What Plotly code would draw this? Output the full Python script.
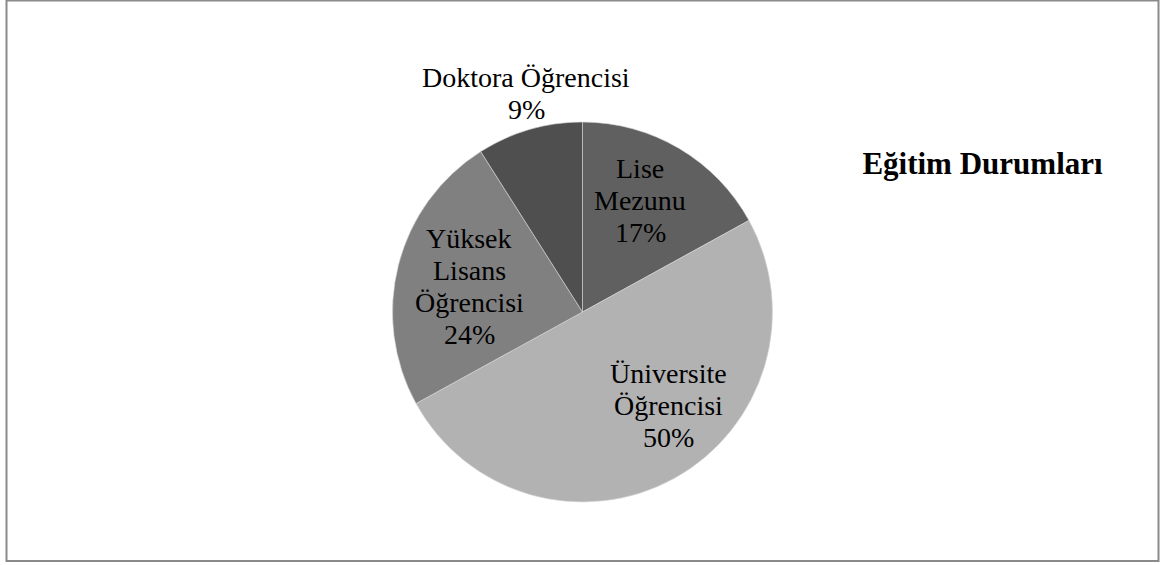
import plotly.graph_objects as go

labels = ["Lise Mezunu", "Üniversite Öğrencisi", "Yüksek Lisans Öğrencisi", "Doktora Öğrencisi"]
values = [17, 50, 24, 9]
label_lines = [["Lise", "Mezunu"], ["Üniversite", "Öğrencisi"], ["Yüksek", "Lisans", "Öğrencisi"], ["Doktora Öğrencisi"]]
colors = ["#606060", "#b2b2b2", "#808080", "#4f4f4f"]
title_text = "<b>Eğitim Durumları</b>"

W, H = 1171, 565
cx, cy, r = 582.5, 312, 190
serif = "Liberation Serif, Times New Roman, serif"
fs = 28
line_gap = 32
# label block positions (x centre, first-line baseline) in pixels
label_pos = [(640, 177), (668, 382), (469, 247), (526, 86)]

fig = go.Figure(go.Pie(
    labels=labels,
    values=values,
    textinfo="none",
    sort=False,
    direction="clockwise",
    rotation=0,
    marker=dict(colors=colors, line=dict(color="#d8d8d8", width=0.6)),
    showlegend=False,
    hoverinfo="label+percent",
    domain=dict(x=[(cx - r) / W, (cx + r) / W], y=[(H - cy - r) / H, (H - cy + r) / H]),
))

total = sum(values)
annotations = []
for lines, v, (lx, ly) in zip(label_lines, values, label_pos):
    all_lines = lines + [f"{v / total * 100:.0f}%"]
    for i, t in enumerate(all_lines):
        base = ly + i * line_gap
        yc = base - 0.3 * fs
        annotations.append(dict(text=t, x=lx / W, y=1 - yc / H, xref="paper", yref="paper",
                                xanchor="center", yanchor="middle", showarrow=False,
                                font=dict(family=serif, size=fs, color="#000000")))

fig.update_layout(
    width=W, height=H,
    margin=dict(l=0, r=0, t=0, b=0),
    paper_bgcolor="white",
    plot_bgcolor="white",
    font=dict(family=serif, color="#000000"),
    title=dict(text=title_text, xref="paper", yref="paper", x=982.5 / W, y=1 - 163 / H,
               xanchor="center", yanchor="middle",
               font=dict(family=serif, size=31, color="#000000")),
    annotations=annotations,
    shapes=[dict(type="rect", xref="paper", yref="paper",
                 x0=6.5 / W, x1=1158.5 / W, y0=1 - 561 / H, y1=1 - 0.5 / H,
                 line=dict(color="#8a8a8a", width=2), fillcolor="rgba(0,0,0,0)", layer="below")],
)

fig.write_html("out.html", config={"displayModeBar": False},
               post_script="document.body.style.margin='0';document.body.style.overflow='hidden';")
